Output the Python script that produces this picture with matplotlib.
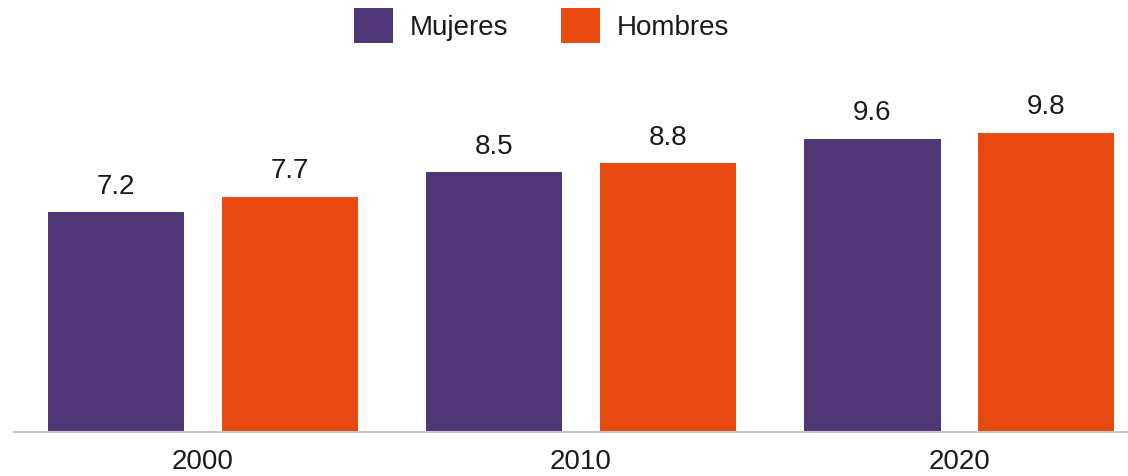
import matplotlib.pyplot as plt
import numpy as np
from matplotlib.patches import Patch

plt.rcParams['font.family'] = ['Liberation Sans', 'DejaVu Sans']

years = ['2000', '2010', '2020']
mujeres = [7.2, 8.5, 9.6]
hombres = [7.7, 8.8, 9.8]
c_muj = '#4f3674'
c_hom = '#e84911'
txt = '#1a1a1a'

fig = plt.figure(figsize=(11.28, 4.76), dpi=100)
ax = fig.add_axes([0, 44 / 476, 1, 382 / 476])

x = np.arange(len(years))
w = 0.362
off = 0.23
b1 = ax.bar(x - off, mujeres, w, color=c_muj)
b2 = ax.bar(x + off, hombres, w, color=c_hom)

for bars, vals in ((b1, mujeres), (b2, hombres)):
    for b, v in zip(bars, vals):
        ax.annotate(f'{v:.1f}', (b.get_x() + b.get_width() / 2, v),
                    xytext=(0, 9), textcoords='offset points',
                    ha='center', va='bottom', fontsize=20, color=txt)

ax.set_xlim(-0.537, 2.447)
ax.set_ylim(0, 382 / 30.55)
ax.set_xticks(x)
ax.set_xticklabels(years, fontsize=20, color=txt)
ax.tick_params(axis='x', length=0, pad=12)
ax.set_yticks([])
for s in ['top', 'right', 'left']:
    ax.spines[s].set_visible(False)
ax.spines['bottom'].set_color('#c8c8c8')
ax.spines['bottom'].set_linewidth(1.5)
ax.spines['bottom'].set_bounds(-0.5, 2.447)

handles = [Patch(facecolor=c_muj, label='Mujeres'), Patch(facecolor=c_hom, label='Hombres')]
fig.legend(handles=handles, loc='upper center', bbox_to_anchor=(0.48, 1.035), ncol=2,
           frameon=False, fontsize=20, handlelength=1.4, handleheight=1.55,
           columnspacing=1.9, handletextpad=0.6, labelcolor=txt)

fig.savefig('out.png', dpi=100)
